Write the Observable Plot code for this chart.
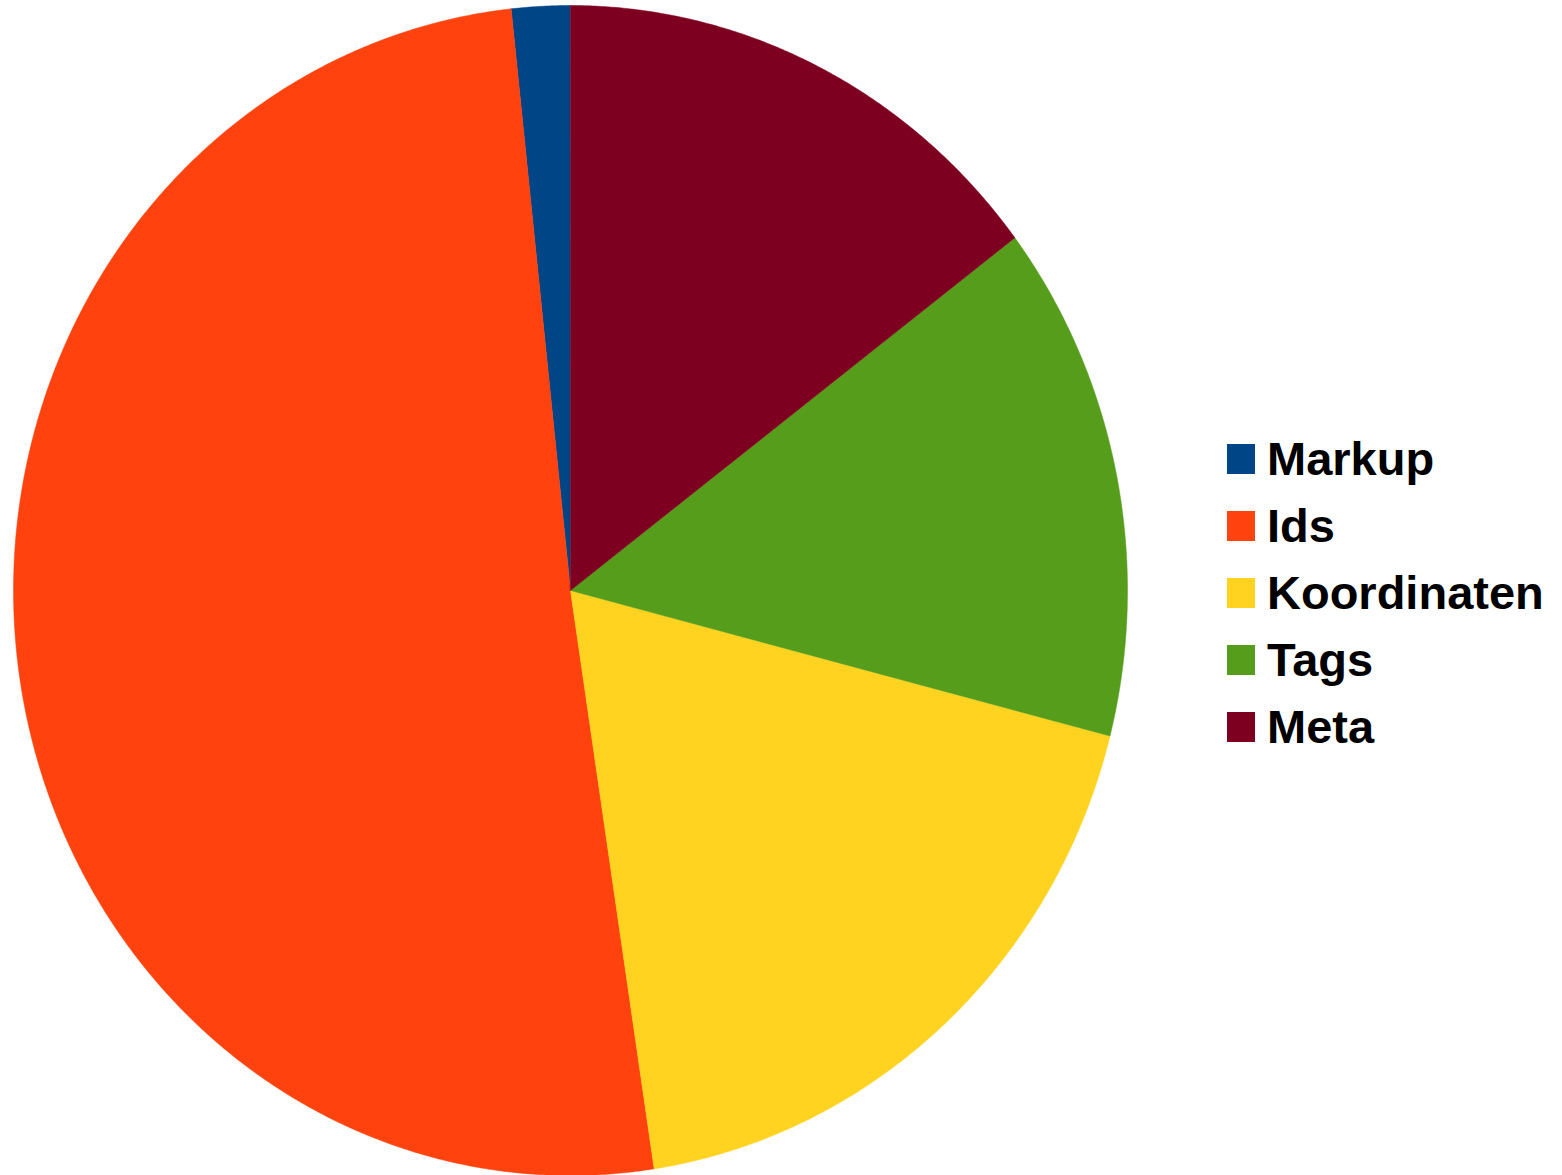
<!DOCTYPE html>
<html>
<head>
<meta charset="utf-8">
<script src="https://cdn.jsdelivr.net/npm/d3@7"></script>
<script src="https://cdn.jsdelivr.net/npm/@observablehq/plot@0.6"></script>
<style>
  html, body { margin: 0; padding: 0; background: #fff; }
  #wrap { position: relative; width: 1562px; height: 1175px; }
  #legend { position: absolute; left: 1227px; top: 425px; font-family: "Liberation Sans", Arial, sans-serif; font-weight: bold; font-size: 47px; color: #000; }
  .item { display: flex; align-items: center; height: 67px; }
  .sw { width: 28px; height: 30px; margin-right: 12px; }
</style>
</head>
<body>
<div id="wrap"></div>
<script>
const categories = ["Markup", "Ids", "Koordinaten", "Tags", "Meta"];
const shares = [1.7, 50.7, 18.6, 14.3, 14.7];
const colors = ["#004586", "#ff420e", "#ffd320", "#579d1c", "#7e0021"];

const data = categories.map((name, i) => ({name, value: shares[i]}));
const arcs = d3.pie().sort(null).value(d => d.value).startAngle(0).endAngle(2 * Math.PI)(data);

// Build closed slice outlines (counterclockwise from 12 o'clock)
const pts = [];
for (const a of arcs) {
  const name = a.data.name;
  pts.push({name, x: 0, y: 0});
  const n = Math.max(4, Math.ceil((a.endAngle - a.startAngle) / 0.005));
  for (let k = 0; k <= n; k++) {
    const t = a.startAngle + (a.endAngle - a.startAngle) * k / n;
    pts.push({name, x: -Math.sin(t), y: Math.cos(t)});
  }
}

const chart = Plot.plot({
  width: 1562,
  height: 1175,
  marginLeft: 13,
  marginRight: 435,
  marginTop: 5,
  marginBottom: 0,
  x: {domain: [-1, 1], axis: null},
  y: {domain: [-1, 1], axis: null},
  color: {domain: categories, range: colors},
  marks: [
    Plot.line(pts, {x: "x", y: "y", z: "name", fill: "name", stroke: "name", strokeWidth: 0.5, curve: "linear-closed"})
  ]
});
const wrap = document.getElementById("wrap");
wrap.appendChild(chart);

const legend = document.createElement("div");
legend.id = "legend";
categories.forEach((c, i) => {
  const it = document.createElement("div");
  it.className = "item";
  const sw = document.createElement("div");
  sw.className = "sw";
  sw.style.background = colors[i];
  const label = document.createElement("span");
  label.textContent = c;
  it.appendChild(sw);
  it.appendChild(label);
  legend.appendChild(it);
});
wrap.appendChild(legend);
</script>
</body>
</html>
